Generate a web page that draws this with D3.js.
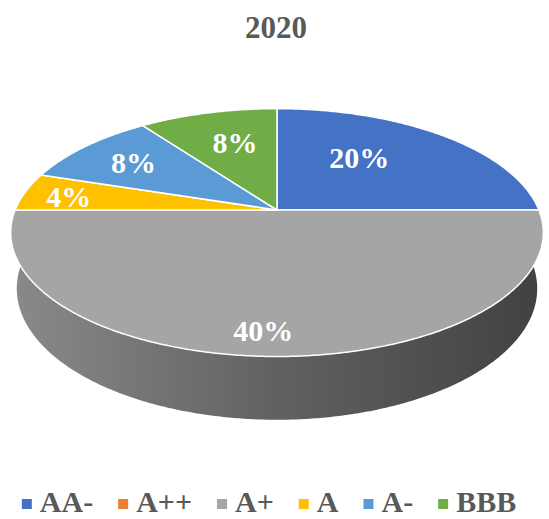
<!DOCTYPE html>
<html>
<head>
<meta charset="utf-8">
<script src="https://cdn.jsdelivr.net/npm/d3@7"></script>
<style>
  body { margin: 0; background: #fff; }
  svg { display: block; font-family: "Liberation Serif", "Times New Roman", serif; }
</style>
</head>
<body>
<div id="chart"></div>
<script>
const title = '2020';
const categories = ['AA-', 'A++', 'A+', 'A', 'A-', 'BBB'];
const values = [20, 0, 40, 4, 8, 8];
const valueLabels = ['20%', '0%', '40%', '4%', '8%', '8%'];
const colors = ['#4472C4', '#ED7D31', '#A5A5A5', '#FFC000', '#5B9BD5', '#70AD47'];

const width = 549, height = 519;
const cx = 277, cy = 210;

// camera for the tilted pie
const sE = 0.4575, cE = Math.sqrt(1 - sE * sE);
const dist = 4.88, focal = 1278, depth = 0.2426;

// angle clockwise from 12 o'clock, r on unit disk, y = 0 top face, -depth bottom
function project(angle, r, y) {
  const px = r * Math.sin(angle);
  const py = y - dist * sE;
  const pz = r * Math.cos(angle) + dist * cE;
  const d = -py * sE + pz * cE;
  const sy = py * cE + pz * sE;
  return [cx + focal * px / d, cy - focal * sy / d];
}

// label placement hints (radius fraction, angle nudge in degrees)
const labelHints = {'AA-': [0.58, -9], 'A+': [0.85, 3], 'A': [0.82, -1], 'A-': [0.73, 0], 'BBB': [0.65, 2]};

const svg = d3.select('#chart').append('svg')
  .attr('width', width)
  .attr('height', height);

const defs = svg.append('defs');

svg.append('text')
  .attr('x', 276)
  .attr('y', 38)
  .attr('text-anchor', 'middle')
  .attr('font-size', 31)
  .attr('font-weight', 'bold')
  .attr('fill', '#595959')
  .text(title);

const arcs = d3.pie().sort(null).value(d => d)(values)
  .map((a, i) => Object.assign(a, {i: i}))
  .filter(a => a.value > 0);

const line = d3.line();
const step = Math.PI / 360;

function rim(a0, a1, y) {
  const n = Math.max(2, Math.ceil((a1 - a0) / step));
  return d3.range(n + 1).map(j => project(a0 + (a1 - a0) * j / n, 1, y));
}

// side walls
const xl = project(-Math.PI / 2 - 0.2, 1, 0)[0], xr = project(Math.PI / 2 + 0.2, 1, 0)[0];
arcs.forEach(a => {
  const base = d3.color(colors[a.i]);
  const g = defs.append('linearGradient')
    .attr('id', 'side' + a.i)
    .attr('gradientUnits', 'userSpaceOnUse')
    .attr('x1', xl).attr('x2', xr).attr('y1', 0).attr('y2', 0);
  [[0, 0.5], [0.5, 1.5], [1, 2.6]].forEach(s => {
    g.append('stop').attr('offset', s[0]).attr('stop-color', base.darker(s[1]).formatHex());
  });
});

svg.append('g').selectAll('path')
  .data(arcs)
  .join('path')
  .attr('d', a => line(rim(a.startAngle, a.endAngle, 0)
    .concat(rim(a.startAngle, a.endAngle, -depth).reverse())) + 'Z')
  .attr('fill', a => 'url(#side' + a.i + ')');

// top faces
svg.append('g').selectAll('path')
  .data(arcs)
  .join('path')
  .attr('d', a => line([project(0, 0, 0)].concat(rim(a.startAngle, a.endAngle, 0))) + 'Z')
  .attr('fill', a => colors[a.i])
  .attr('stroke', '#fff')
  .attr('stroke-width', 1.5)
  .attr('stroke-linejoin', 'round');

// value labels
svg.append('g').selectAll('text')
  .data(arcs)
  .join('text')
  .each(function (a) {
    const h = labelHints[categories[a.i]] || [0.65, 0];
    const mid = (a.startAngle + a.endAngle) / 2 + h[1] * Math.PI / 180;
    const p = project(mid, h[0], 0);
    d3.select(this).attr('x', p[0]).attr('y', p[1]);
  })
  .attr('dy', '0.34em')
  .attr('text-anchor', 'middle')
  .attr('font-size', 30)
  .attr('font-weight', 'bold')
  .attr('fill', '#fff')
  .text(a => valueLabels[a.i]);

// legend
const legend = svg.append('g');
const items = legend.selectAll('g')
  .data(categories)
  .join('g');
items.append('rect')
  .attr('width', 10)
  .attr('height', 10)
  .attr('y', 499)
  .attr('fill', (d, i) => colors[i]);
items.append('text')
  .attr('x', 18)
  .attr('y', 512)
  .attr('font-size', 30)
  .attr('font-weight', 'bold')
  .attr('fill', '#595959')
  .text(d => d);

let lx = 0;
const offsets = [];
items.each(function () {
  offsets.push(lx);
  lx += 18 + d3.select(this).select('text').node().getComputedTextLength() + 25;
});
const total = lx - 25;
const x0 = 269 - total / 2;
items.attr('transform', (d, i) => 'translate(' + (x0 + offsets[i]) + ',0)');
</script>
</body>
</html>
